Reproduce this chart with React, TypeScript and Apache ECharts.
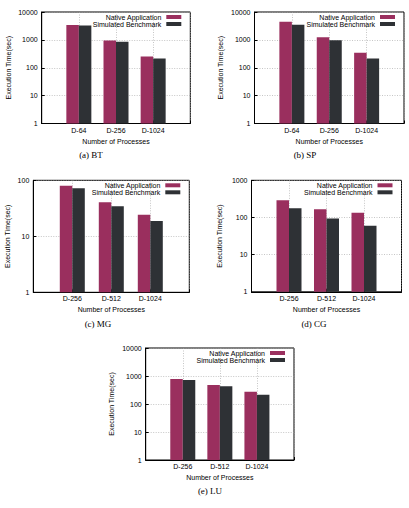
import React, { useEffect, useRef } from 'react';
import * as echarts from 'echarts';

const seriesNames = ['Native Application', 'Simulated Benchmark'];

const btCats = ['D-64', 'D-256', 'D-1024'];
const btNative = [3450, 950, 255];
const btSim = [3250, 850, 215];

const spCats = ['D-64', 'D-256', 'D-1024'];
const spNative = [4500, 1240, 345];
const spSim = [3500, 970, 215];

const mgCats = ['D-256', 'D-512', 'D-1024'];
const mgNative = [80, 40.5, 24.3];
const mgSim = [72, 34.3, 18.8];

const cgCats = ['D-256', 'D-512', 'D-1024'];
const cgNative = [292, 167, 133];
const cgSim = [178, 94, 59.5];

const luCats = ['D-256', 'D-512', 'D-1024'];
const luNative = [780, 477, 275];
const luSim = [720, 427, 215];

const captions = ['(a) BT', '(b) SP', '(c) MG', '(d) CG', '(e) LU'];
const yMaxima = [10000, 10000, 100, 1000, 10000];
const xTitle = 'Number of Processes';
const yTitle = 'Execution Time(sec)';

const panelCats = [btCats, spCats, mgCats, cgCats, luCats];
const panelNative = [btNative, spNative, mgNative, cgNative, luNative];
const panelSim = [btSim, spSim, mgSim, cgSim, luSim];

// layout (pixels)
const layout = [
  { left: 41.7, top: 12, width: 148.6, height: 111.5, yGap: 30, capX: 91, capY: 155 },
  { left: 254.5, top: 12, width: 149.5, height: 111.5, yGap: 31, capX: 305, capY: 155 },
  { left: 33.3, top: 180.3, width: 156, height: 112, yGap: 22, capX: 98, capY: 324 },
  { left: 251.5, top: 180.3, width: 150, height: 111.5, yGap: 28.5, capX: 314, capY: 324 },
  { left: 145.7, top: 348, width: 148.3, height: 112, yGap: 31, capX: 210, capY: 491 },
];

const W = 409;
const H = 508;
const NATIVE_COLOR = '#9a2f5e';
const SIM_COLOR = '#2e3135';
const FONT = 'Liberation Sans';

export default function App() {
  const ref = useRef<HTMLDivElement>(null);
  useEffect(() => {
    if (!ref.current) return;
    const chart = echarts.init(ref.current, undefined, { renderer: 'svg' });
    const grid: any[] = [];
    const xAxis: any[] = [];
    const yAxis: any[] = [];
    const series: any[] = [];
    const legend: any[] = [];
    const graphic: any[] = [];
    const gridLine = { show: true, lineStyle: { color: '#a0a0a0', width: 0.6, type: [1, 1.5] } };
    layout.forEach((p, i) => {
      grid.push({
        left: p.left, top: p.top, width: p.width, height: p.height,
        show: true, borderColor: '#000', borderWidth: 1, containLabel: false,
      });
      xAxis.push({
        type: 'category', gridIndex: i, boundaryGap: false,
        data: ['', ...panelCats[i], ''],
        axisLine: { show: true, lineStyle: { color: '#000', width: 1 } },
        axisTick: { show: true, inside: true, length: 3, lineStyle: { color: '#000' } },
        axisLabel: { fontSize: 7, fontFamily: FONT, color: '#000', margin: 3, interval: 0 },
        splitLine: gridLine,
        name: xTitle, nameLocation: 'middle', nameGap: 14,
        nameTextStyle: { fontSize: 7, fontFamily: FONT, color: '#000' },
      });
      yAxis.push({
        type: 'log', logBase: 10, gridIndex: i, min: 1, max: yMaxima[i],
        axisLine: { show: true, lineStyle: { color: '#000', width: 1 } },
        axisTick: { show: true, inside: true, length: 3, lineStyle: { color: '#000' } },
        axisLabel: {
          fontSize: 7, fontFamily: FONT, color: '#000', margin: 4,
          formatter: (v: number) => String(Math.round(v)),
        },
        splitLine: gridLine,
        minorTick: { show: false },
        name: yTitle, nameLocation: 'middle', nameGap: p.yGap,
        nameTextStyle: { fontSize: 7, fontFamily: FONT, color: '#000' },
      });
      series.push({
        type: 'bar', name: seriesNames[0], xAxisIndex: i, yAxisIndex: i,
        data: ['-', ...panelNative[i], '-'],
        barWidth: 12.5, barGap: '0%',
        itemStyle: { color: NATIVE_COLOR },
      });
      series.push({
        type: 'bar', name: seriesNames[1], xAxisIndex: i, yAxisIndex: i,
        data: ['-', ...panelSim[i], '-'],
        barWidth: 12.5, barGap: '0%',
        itemStyle: { color: SIM_COLOR },
      });
      const frameRight = p.left + p.width;
      legend.push({
        data: seriesNames,
        orient: 'vertical', align: 'right',
        right: W - (frameRight - 9), top: p.top + 1.5,
        padding: 0, itemGap: 0, itemWidth: 15, itemHeight: 4,
        icon: 'rect', selectedMode: false,
        textStyle: { fontSize: 7, fontFamily: FONT, color: '#000', lineHeight: 7 },
      });
      graphic.push({
        type: 'text', x: p.capX, y: p.capY,
        style: {
          text: captions[i], fontFamily: 'Liberation Serif', fontSize: 9,
          fill: '#000', textAlign: 'center', textVerticalAlign: 'middle',
        },
      });
    });
    chart.setOption({
      animation: false,
      backgroundColor: '#fff',
      grid, xAxis, yAxis, series, legend, graphic,
    });
    return () => chart.dispose();
  }, []);
  return (
    <div
      ref={ref}
      style={{ position: 'absolute', left: 0, top: 0, width: W, height: H }}
    />
  );
}
